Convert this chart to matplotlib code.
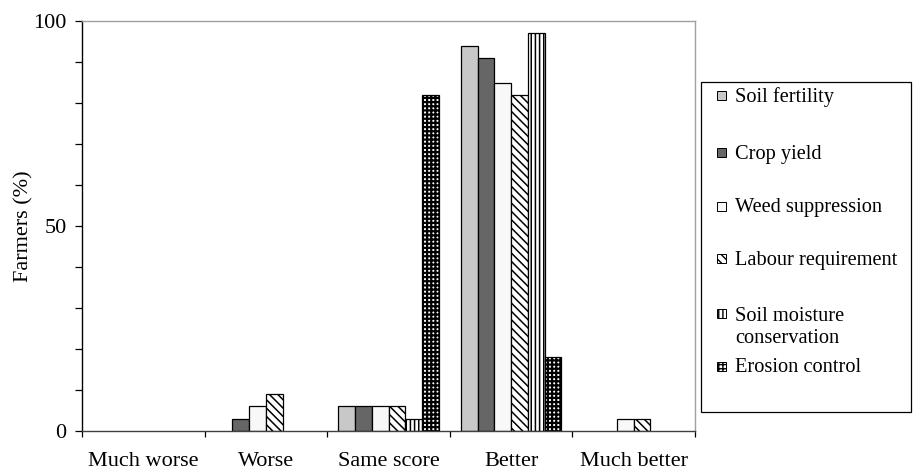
import numpy as np
import matplotlib
matplotlib.use("Agg")
from matplotlib import pyplot as plt
from matplotlib.patches import Rectangle
from matplotlib.ticker import MultipleLocator, FixedLocator

# data
categories = ["Much worse", "Worse", "Same score", "Better", "Much better"]
soil_fertility = [0, 0, 6, 94, 0]
crop_yield = [0, 3, 6, 91, 0]
weed_suppression = [0, 6, 6, 85, 3]
labour_requirement = [0, 9, 6, 82, 3]
soil_moisture = [0, 0, 3, 97, 0]
erosion_control = [0, 0, 82, 18, 0]

series_names = ["Soil fertility", "Crop yield", "Weed suppression",
                "Labour requirement", "Soil moisture\nconservation", "Erosion control"]
series_values = [soil_fertility, crop_yield, weed_suppression,
                 labour_requirement, soil_moisture, erosion_control]

# bar styles (face colour, hatch, hatch line width)
styles = [
    ("#c8c8c8", None, 1.0),
    ("#666666", None, 1.0),
    ("#f8f8f8", None, 1.0),
    ("white", "\\\\\\\\", 1.1),
    ("white", "||||", 1.1),
    ("white", "++++", 1.6),
]

plt.rcParams["font.family"] = ["Liberation Serif", "DejaVu Serif"]
FS = 16
LEG_FS = 14.7

W, H = 913, 472
fig = plt.figure(figsize=(W / 100, H / 100), dpi=100)
ax = fig.add_axes([82 / W, 1 - 431 / H, (695 - 82) / W, (431 - 21) / H])

x = np.arange(len(categories))
bar_w = 0.137
offsets = (np.arange(len(series_values)) - 2.5) * bar_w

for vals, off, name, (fc, hatch, hlw) in zip(series_values, offsets, series_names, styles):
    with plt.rc_context({"hatch.linewidth": hlw}):
        bars = ax.bar(x + off, vals, width=bar_w, facecolor=fc, edgecolor="black",
                      linewidth=0.9, hatch=hatch, label=name)
    # zero-height bars are not drawn in the original
    for b, v in zip(bars, vals):
        if v == 0:
            b.set_visible(False)

ax.set_xlim(-0.5, len(categories) - 0.5)
ax.set_ylim(0, 100)

# x axis: ticks on category boundaries, labels centred
ax.xaxis.set_major_locator(FixedLocator(np.arange(len(categories) + 1) - 0.5))
ax.xaxis.set_minor_locator(FixedLocator(x))
ax.set_xticklabels([], minor=False)
ax.set_xticklabels(categories, minor=True, fontsize=FS)
ax.tick_params(axis="x", which="major", direction="out", length=4, width=0.9)
ax.tick_params(axis="x", which="minor", length=0, pad=15)

ax.yaxis.set_major_locator(MultipleLocator(50))
ax.yaxis.set_minor_locator(MultipleLocator(10))
ax.tick_params(axis="y", which="major", direction="out", length=5, width=0.9,
               labelsize=FS, pad=6)
ax.tick_params(axis="y", which="minor", direction="out", length=5, width=0.9)
ax.set_ylabel("Farmers (%)", fontsize=FS, labelpad=0)

ax.spines["left"].set_color("black")
ax.spines["bottom"].set_color("#404040")
ax.spines["top"].set_color("#a0a0a0")
ax.spines["right"].set_color("#a0a0a0")
for s in ax.spines.values():
    s.set_linewidth(1.0)

# legend box drawn by hand, Excel style (uneven row spacing)
fig.add_artist(Rectangle((701 / W, 1 - 412 / H), (911 - 701) / W, (412 - 82) / H,
                         transform=fig.transFigure, facecolor="white",
                         edgecolor="black", linewidth=0.9))
row_px = [95, 152, 206, 258, 313, 366]
line_px = 25
for name, (fc, hatch, hlw), ypx in zip(series_names, styles, row_px):
    with plt.rc_context({"hatch.linewidth": min(hlw, 1.0)}):
        fig.add_artist(Rectangle((717 / W, 1 - (ypx + 4.5) / H), 9 / W, 9 / H,
                                 transform=fig.transFigure, facecolor=fc,
                                 edgecolor="black", linewidth=0.7, hatch=hatch))
    nlines = name.count("\n") + 1
    ty = ypx + 2 + (nlines - 1) * line_px / 2
    fig.text(735 / W, 1 - ty / H, name, fontsize=LEG_FS, ha="left", va="center",
             linespacing=1.2)

fig.savefig("out.png", dpi=100)
